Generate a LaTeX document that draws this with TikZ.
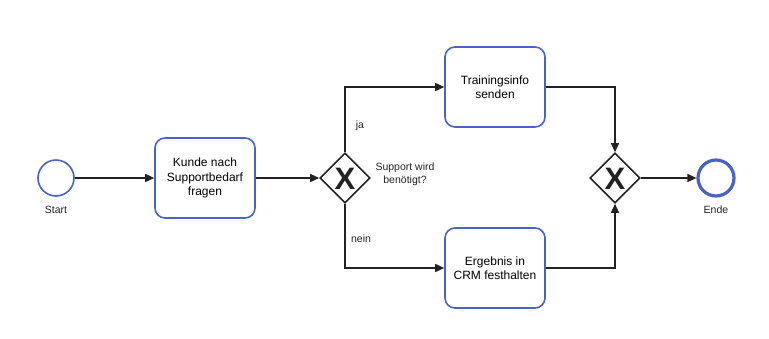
\documentclass[tikz,border=0pt]{standalone}
\usepackage{fontspec}
\setmainfont{Liberation Sans}
\usetikzlibrary{arrows.meta,shapes.geometric}
\definecolor{bpblue}{RGB}{72,99,196}
\definecolor{bpline}{RGB}{34,34,34}
\begin{document}
\begin{tikzpicture}[x=1pt,y=-1pt,
  task/.style={draw=bpblue,line width=1.6pt,rounded corners=10pt,minimum width=100pt,minimum height=80pt,align=center,font=\fontsize{12}{14.5}\selectfont,fill=white,inner sep=2pt},
  gw/.style={draw=bpline,line width=1.6pt,diamond,minimum width=50pt,minimum height=50pt,inner sep=0pt,fill=white},
  gx/.style={font=\fontsize{31}{31}\selectfont\bfseries,text=bpline},
  ev/.style={draw=bpblue,circle,minimum size=36pt,inner sep=0pt,fill=white},
  flow/.style={draw=bpline,line width=1.5pt,-{Triangle[length=9pt,width=8pt]}},
  lbl/.style={font=\fontsize{10.5}{12}\selectfont,text=bpline},
  small/.style={font=\fontsize{10.5}{13}\selectfont,align=center,text=bpline}]
\useasboundingbox (0,0) rectangle (769,338);
\node[ev,line width=1.6pt] (start) at (56,178) {};
\node[lbl] (startl) at (56,210) {Start};
\node[task] (t1) at (205,178) {Kunde nach\\Supportbedarf\\fragen};
\node[gw] (g1) at (345,178) {};
\node[gx] (x1) at (345,179) {X};
\node[small] (ql) at (405,174) {Support wird\\benötigt?};
\node[task] (t2) at (495,87) {Trainingsinfo\\senden};
\node[task] (t3) at (495,268) {Ergebnis in\\CRM festhalten};
\node[gw] (g2) at (615,178) {};
\node[gx] (x2) at (615,179) {X};
\node[ev,line width=3.2pt] (end) at (716,178) {};
\node[lbl] (endl) at (716,210) {Ende};
\node[lbl] (ja) at (360,126) {ja};
\node[lbl] (nein) at (361,239) {nein};
\draw[flow] (start) -- (t1);
\draw[flow] (t1) -- (g1);
\draw[flow] (g1.north) |- (t2.west);
\draw[flow] (g1.south) |- (t3.west);
\draw[flow] (t2.east) -| (g2.north);
\draw[flow] (t3.east) -| (g2.south);
\draw[flow] (g2) -- (end);
\end{tikzpicture}
\end{document}
